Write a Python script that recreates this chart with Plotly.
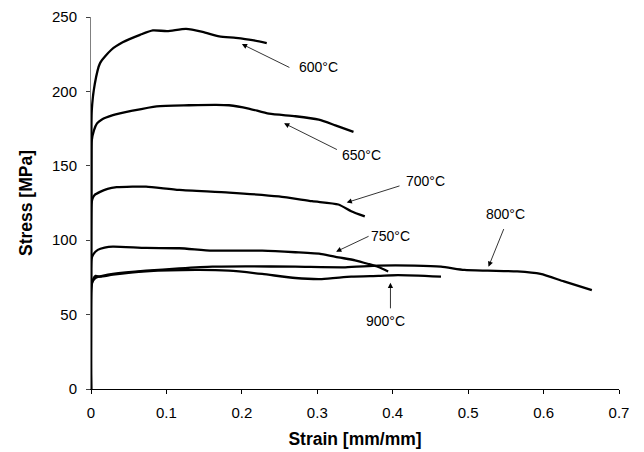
import plotly.graph_objects as go

# ---- data ----
strain_600 = [0, 0.0005, 0.001, 0.005, 0.012, 0.027, 0.042, 0.065, 0.082, 0.101, 0.126, 0.148, 0.170, 0.192, 0.214, 0.233]
stress_600 = [0, 150, 187, 205, 219, 228, 233, 238, 241, 240.5, 242, 240, 237, 236, 234.5, 232.5]

strain_650 = [0, 0.0005, 0.001, 0.004, 0.008, 0.014, 0.029, 0.055, 0.087, 0.130, 0.166, 0.183, 0.209, 0.236, 0.271, 0.302, 0.324, 0.348]
stress_650 = [0, 154, 167, 174, 178.5, 181, 184, 187, 190, 190.7, 191, 190.7, 188.5, 185, 183.3, 181, 177.2, 172.8]

strain_700 = [0, 0.0005, 0.002, 0.005, 0.012, 0.022, 0.034, 0.055, 0.073, 0.117, 0.183, 0.249, 0.293, 0.328, 0.345, 0.363]
stress_700 = [0, 124, 128, 130.5, 132.5, 134.5, 135.6, 136, 136, 133.8, 132, 129.4, 126.2, 124, 119.5, 116]

strain_750 = [0, 0.0005, 0.003, 0.009, 0.018, 0.029, 0.073, 0.117, 0.161, 0.227, 0.271, 0.306, 0.328, 0.350, 0.368, 0.381, 0.394]
stress_750 = [0, 87, 90.5, 93.5, 95, 95.7, 94.8, 94.6, 93, 93, 91.9, 90.7, 88.5, 86.5, 84, 82, 79]

strain_800 = [0, 0.0005, 0.003, 0.007, 0.015, 0.029, 0.073, 0.117, 0.161, 0.205, 0.271, 0.337, 0.381, 0.429, 0.464, 0.495, 0.526, 0.565, 0.596, 0.627, 0.664]
stress_800 = [0, 70, 73, 75, 76, 77.3, 79.5, 81, 82.2, 82.4, 82.2, 81.8, 82.9, 82.9, 82.2, 80, 79.5, 79, 77.3, 72.3, 66.5]

strain_900 = [0, 0.0005, 0.003, 0.006, 0.012, 0.029, 0.073, 0.139, 0.183, 0.227, 0.271, 0.306, 0.345, 0.381, 0.407, 0.464]
stress_900 = [0, 68, 74, 76, 75.5, 76.8, 79, 80, 79.5, 77.3, 74.6, 73.9, 75.5, 76, 76.5, 75.5]

series = [
    ("600°C", strain_600, stress_600),
    ("650°C", strain_650, stress_650),
    ("700°C", strain_700, stress_700),
    ("750°C", strain_750, stress_750),
    ("800°C", strain_800, stress_800),
    ("900°C", strain_900, stress_900),
]

# label text position, arrow tail, arrow head (data coords)
label_names = ["600°C", "650°C", "700°C", "750°C", "800°C", "900°C"]
label_x = [0.302, 0.358, 0.443, 0.397, 0.549, 0.391]
label_y = [216.3, 157.0, 139.5, 103.1, 117.9, 45.8]
tail_x = [0.265, 0.328, 0.411, 0.370, 0.548, 0.397]
tail_y = [215.6, 160.4, 136.8, 103.1, 108.5, 53.2]
head_x = [0.200, 0.256, 0.339, 0.325, 0.527, 0.397]
head_y = [231.8, 178.6, 125.3, 92.3, 82.2, 71.4]

x_ticks = [0, 0.1, 0.2, 0.3, 0.4, 0.5, 0.6, 0.7]
x_ticktext = ["0", "0.1", "0.2", "0.3", "0.4", "0.5", "0.6", "0.7"]
y_ticks = [0, 50, 100, 150, 200, 250]

FONT = "Liberation Sans, Arial, sans-serif"

fig = go.Figure()
for name, xs, ys in series:
    fig.add_trace(go.Scatter(
        x=xs, y=ys, mode="lines", name=name,
        line=dict(color="black", width=2.3, shape="spline", smoothing=0.6),
        showlegend=False, hoverinfo="skip",
    ))

annotations = []
for i in range(len(label_names)):
    annotations.append(dict(
        x=head_x[i], y=head_y[i], xref="x", yref="y",
        ax=tail_x[i], ay=tail_y[i], axref="x", ayref="y",
        text="", showarrow=True, arrowhead=2, arrowsize=1.3,
        arrowwidth=0.8, arrowcolor="black",
    ))
    annotations.append(dict(
        x=label_x[i], y=label_y[i], xref="x", yref="y",
        text=label_names[i], showarrow=False,
        font=dict(family=FONT, size=14, color="black"),
        xanchor="center", yanchor="middle",
    ))

# the page body adds an 8px offset, so the figure is sized to fit the window
fig.update_layout(
    width=636, height=444,
    margin=dict(l=83, r=25, t=9, b=63, autoexpand=False),
    paper_bgcolor="white", plot_bgcolor="white",
    font=dict(family=FONT, color="black"),
    annotations=annotations,
    xaxis=dict(
        range=[0, 0.7], tickvals=x_ticks, ticktext=x_ticktext,
        automargin=False,
        showgrid=False, zeroline=False,
        showline=True, linecolor="black", linewidth=1,
        ticks="outside", ticklen=4, tickcolor="black",
        ticklabelstandoff=6,
        tickfont=dict(family=FONT, size=15, color="black"),
        title=dict(text="<b>Strain [mm/mm]</b>", font=dict(family=FONT, size=17.5, color="black"), standoff=12),
    ),
    yaxis=dict(
        range=[0, 250], tickvals=y_ticks,
        automargin=False,
        showgrid=False, zeroline=False,
        showline=True, linecolor="#808080", linewidth=1,
        ticks="outside", ticklen=4, tickcolor="#404040",
        ticklabelstandoff=6,
        tickfont=dict(family=FONT, size=15, color="black"),
        title=dict(text="<b>Stress [MPa]</b>", font=dict(family=FONT, size=17.5, color="black"), standoff=14),
    ),
)

fig.write_html("out.html")
